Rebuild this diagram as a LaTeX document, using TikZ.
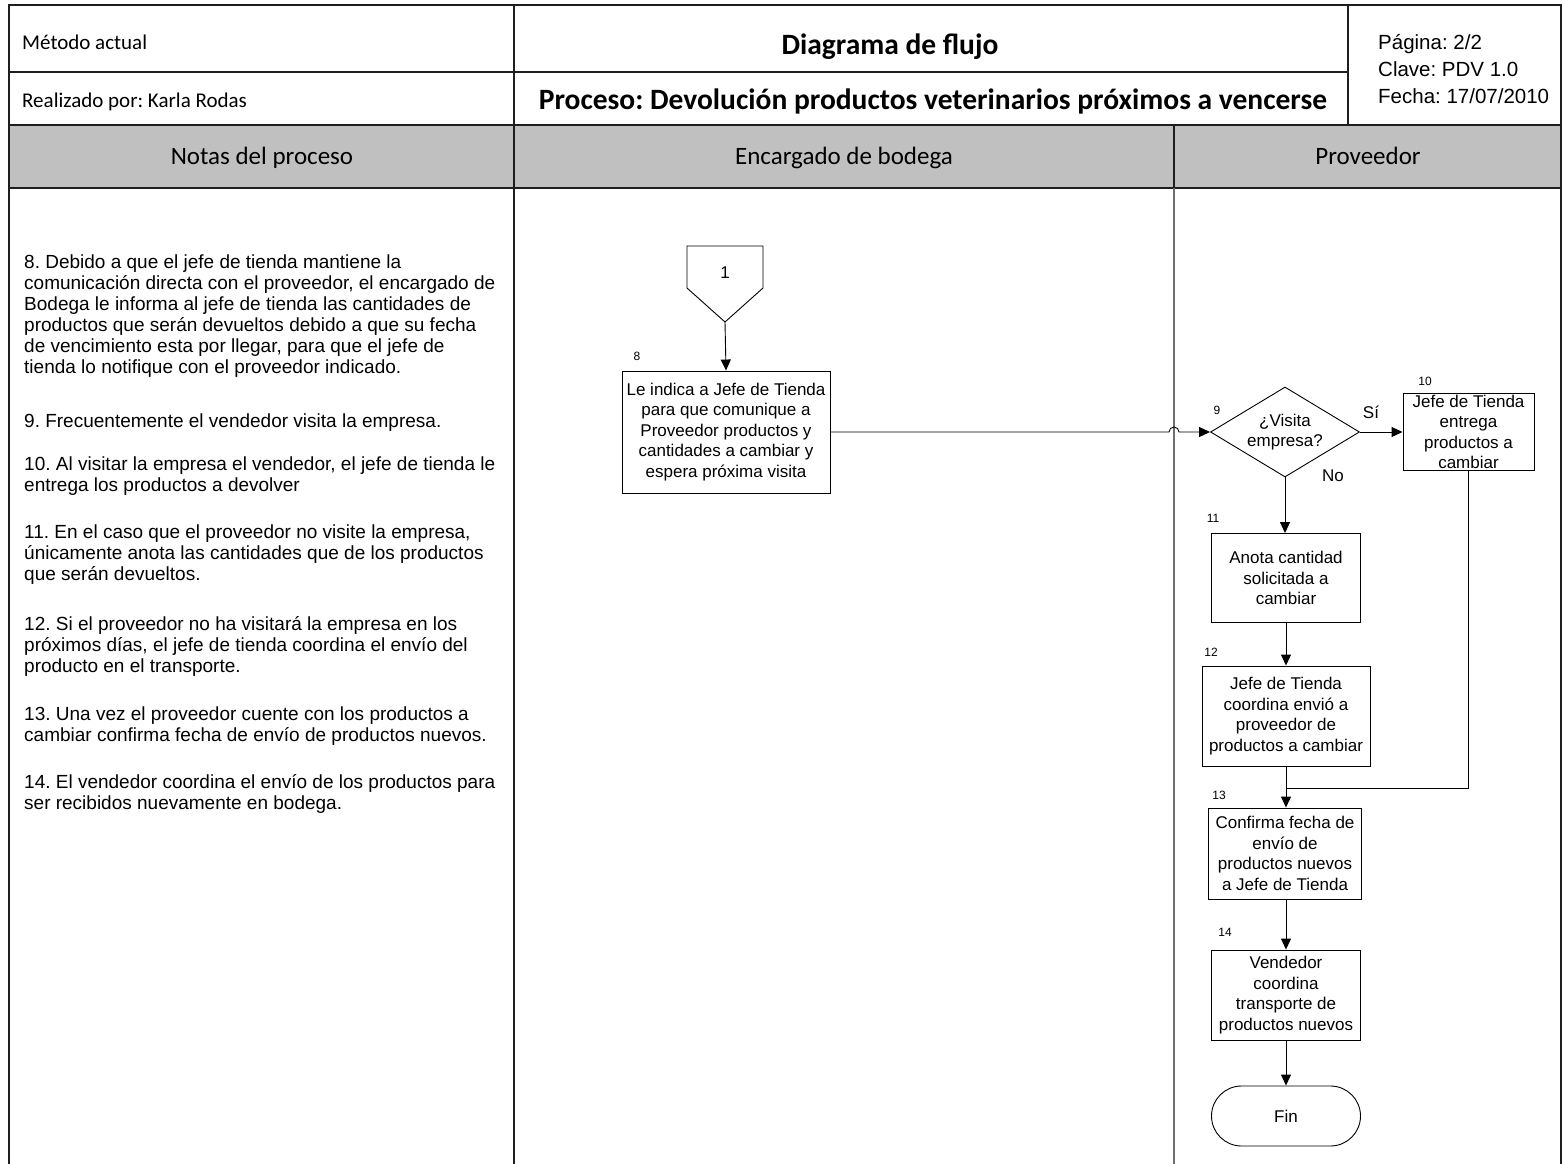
\documentclass[tikz,border=0pt]{standalone}
\usepackage{fontspec}
\setmainfont{Liberation Sans}
\newfontfamily\calibri{Carlito}
\usetikzlibrary{arrows.meta,shapes.geometric}
\definecolor{bandgray}{RGB}{192,192,192}
\definecolor{framecol}{RGB}{30,30,30}
\definecolor{lanecol}{RGB}{110,110,110}
\frenchspacing

\begin{document}
\begin{tikzpicture}[x=1pt,y=-1pt,
  frame/.style={line width=1.6pt, draw=framecol},
  hdr/.style={font=\calibri\fontsize{21}{24}\selectfont, inner sep=0pt, anchor=base west},
  hdrtitle/.style={font=\calibri\bfseries\fontsize{29.5}{34}\selectfont, inner sep=0pt, anchor=base},
  lanetitle/.style={font=\calibri\fontsize{25}{30}\selectfont, inner sep=0pt, anchor=base},
  note/.style={anchor=north west, align=left, inner sep=0pt, font=\fontsize{19}{21}\selectfont},
  proc/.style={draw=black, line width=0.9pt, fill=white, align=center, inner sep=0pt,
    font=\fontsize{17}{20.5}\selectfont},
  decision/.style={draw=black, line width=0.9pt, fill=white, align=center, shape=diamond,
    aspect=1.66, inner sep=0pt, font=\fontsize{17}{20.5}\selectfont},
  stepno/.style={font=\fontsize{12}{14}\selectfont, inner sep=0pt},
  branch/.style={font=\fontsize{17}{20}\selectfont, inner sep=0pt},
  flow/.style={draw=black, line width=0.9pt, -{Triangle[length=11pt,width=10pt]}},
  link/.style={draw=black, line width=0.9pt}
]
\useasboundingbox (0,0) rectangle (1564,1164);

% ---- header block ----
\fill[bandgray] (9,125) rectangle (1561,188);
\draw[frame] (9,1164) -- (9,5) -- (1561,5) -- (1561,1164);
\draw[frame] (9,72) -- (1348,72);
\draw[frame] (1348,5) -- (1348,125);
\draw[line width=2.6pt, draw=framecol] (9,125) -- (1561,125);
\draw[frame] (9,188) -- (1561,188);
\draw[frame] (514,5) -- (514,1164);
\draw[frame] (1174,125) -- (1174,188);
\draw[line width=1.3pt, draw=lanecol] (1174,188) -- (1174,1164);

\node[hdr] (metodo) at (22,50) {Método actual};
\node[hdr] (autor) at (22,107) {Realizado por: Karla Rodas};
\node[hdrtitle] (titulo) at (890,55) {Diagrama de flujo};
\node[hdrtitle] (proceso) at (933,109) {Proceso: Devolución productos veterinarios próximos a vencerse};
\node[anchor=west, align=left, inner sep=0pt, font=\fontsize{20.5}{27}\selectfont] (pagina) at (1378,69)
  {Página: 2/2\\Clave: PDV 1.0\\Fecha: 17/07/2010};

\node[lanetitle] (lnotas) at (262,164) {Notas del proceso};
\node[lanetitle] (lbodega) at (844,164) {Encargado de bodega};
\node[lanetitle] (lprov) at (1368,164) {Proveedor};

% ---- process notes ----
\node[note] (p8) at (24,255) {8. Debido a que el jefe de tienda mantiene la\\
comunicación directa con el proveedor, el encargado de\\
Bodega le informa al jefe de tienda las cantidades de\\
productos que serán devueltos debido a que su fecha\\
de vencimiento esta por llegar, para que el jefe de\\
tienda lo notifique con el proveedor indicado.};
\node[note] (p9) at (24,414) {9. Frecuentemente el vendedor visita la empresa.};
\node[note] (p10) at (24,457) {10. Al visitar la empresa el vendedor, el jefe de tienda le\\
entrega los productos a devolver};
\node[note] (p11) at (24,525) {11. En el caso que el proveedor no visite la empresa,\\
únicamente anota las cantidades que de los productos\\
que serán devueltos.};
\node[note] (p12) at (24,616) {12. Si el proveedor no ha visitará la empresa en los\\
próximos días, el jefe de tienda coordina el envío del\\
producto en el transporte.};
\node[note] (p13) at (24,707) {13. Una vez el proveedor cuente con los productos a\\
cambiar confirma fecha de envío de productos nuevos.};
\node[note] (p14) at (24,774) {14. El vendedor coordina el envío de los productos para\\
ser recibidos nuevamente en bodega.};

% ---- off-page connector ----
\draw[link] (687,246) -- (763,246) -- (763,288) -- (725,322) -- (687,288) -- cycle;
\node[font=\fontsize{17}{20}\selectfont, inner sep=0pt] (c1) at (725,273) {1};
\coordinate (c1tip) at (725,322);

% ---- flow steps ----
\node[proc, minimum width=208pt, minimum height=122pt] (n8) at (726,432)
  {Le indica a Jefe de Tienda\\para que comunique a\\Proveedor productos y\\cantidades a cambiar y\\espera próxima visita};
\node[decision, minimum width=149pt, minimum height=90pt] (d9) at (1285,432) {¿Visita\\empresa?};
\node[proc, minimum width=131pt, minimum height=77pt] (n10) at (1468.5,432)
  {Jefe de Tienda\\entrega\\productos a\\cambiar};
\node[proc, minimum width=149pt, minimum height=89pt] (n11) at (1286,578)
  {Anota cantidad\\solicitada a\\cambiar};
\node[proc, minimum width=168pt, minimum height=100pt] (n12) at (1286,716)
  {Jefe de Tienda\\coordina envió a\\proveedor de\\productos a cambiar};
\node[proc, minimum width=153pt, minimum height=91pt] (n13) at (1285,853.5)
  {Confirma fecha de\\envío de\\productos nuevos\\a Jefe de Tienda};
\node[proc, minimum width=149pt, minimum height=90pt] (n14) at (1286,995)
  {Vendedor\\coordina\\transporte de\\productos nuevos};
\node[proc, rounded corners=30pt, minimum width=149pt, minimum height=60pt] (fin) at (1286,1116) {Fin};

% step numbers
\node[stepno] (s8) at (637,356) {8};
\node[stepno] (s9) at (1217,410) {9};
\node[stepno] (s10) at (1425,381) {10};
\node[stepno] (s11) at (1213,518) {11};
\node[stepno] (s12) at (1211,652) {12};
\node[stepno] (s13) at (1219,795) {13};
\node[stepno] (s14) at (1225,932) {14};

% branch labels
\node[branch] (si) at (1371,412) {Sí};
\node[branch] (no) at (1333,476) {No};

% ---- connectors ----
\coordinate (hop) at (1174,432);
\coordinate (j13) at (1286,788);
\draw[flow] (c1tip) -- (n8.north);
\draw[flow] (n8.east) -- ([xshift=-5pt]hop) arc[start angle=180, end angle=0, radius=5pt] -- (d9.west);
\draw[flow] (d9.east) -- (n10.west);
\draw[flow] (d9.south) -- (d9.south |- n11.north);
\draw[flow] (n11.south) -- (n11.south |- n12.north);
\draw[flow] (n12.south) -- (n12.south |- n13.north);
\draw[link] (n10.south) |- (j13);
\draw[flow] (n13.south -| n12.south) -- (n12.south |- n14.north);
\draw[flow] (n14.south) -- (fin.north);
\end{tikzpicture}
\end{document}
